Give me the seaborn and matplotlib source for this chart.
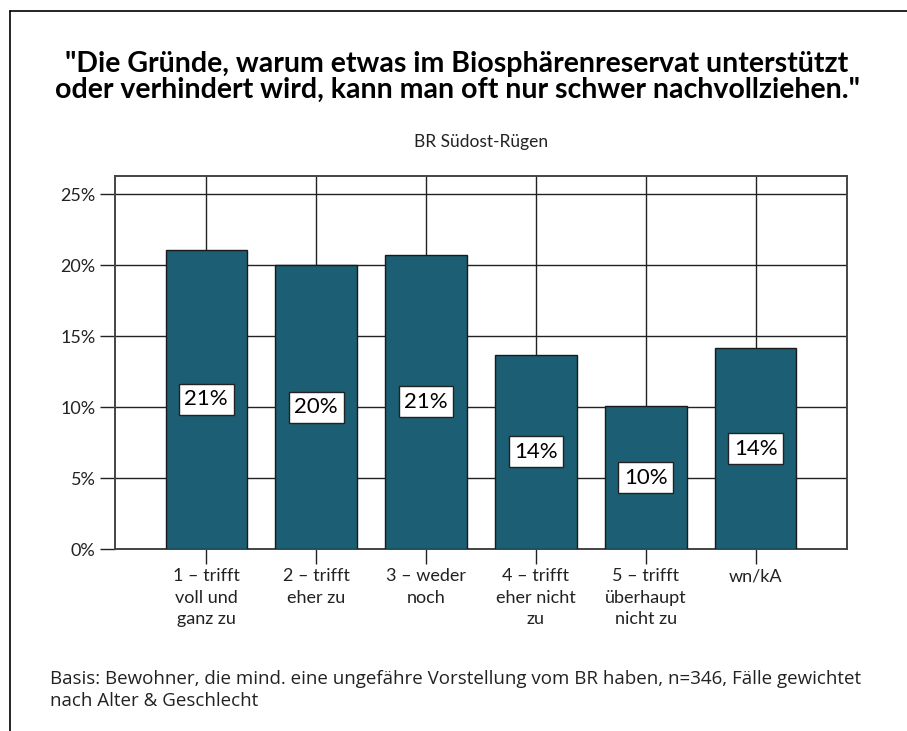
import matplotlib
matplotlib.use("Agg")
import matplotlib.pyplot as plt
import seaborn as sns
import pandas as pd
from matplotlib.lines import Line2D

categories = ["1 – trifft\nvoll und\nganz zu", "2 – trifft\neher zu", "3 – weder\nnoch",
              "4 – trifft\neher nicht\nzu", "5 – trifft\nüberhaupt\nnicht zu", "wn/kA"]
values = [21.1, 20.0, 20.75, 13.7, 10.07, 14.13]
bar_labels = ["21%", "20%", "21%", "14%", "10%", "14%"]
yticks = [0, 5, 10, 15, 20, 25]
ytick_labels = ["0%", "5%", "10%", "15%", "20%", "25%"]

title = '"Die Gründe, warum etwas im Biosphärenreservat unterstützt\noder verhindert wird, kann man oft nur schwer nachvollziehen."'
subtitle = "BR Südost-Rügen"
footnote = "Basis: Bewohner, die mind. eine ungefähre Vorstellung vom BR haben, n=346, Fälle gewichtet\nnach Alter & Geschlecht"

sns.set_theme(style="white")
plt.rcParams["font.family"] = ["Lato", "DejaVu Sans"]

df = pd.DataFrame({"cat": categories, "val": values})

fig = plt.figure(figsize=(9.07, 7.31), dpi=100)
ax = fig.add_axes([115/907, 1 - 549/731, (847 - 115)/907, (549 - 175.5)/731])

sns.barplot(data=df, x="cat", y="val", ax=ax, color="#1c5e73", saturation=1,
            width=0.74, edgecolor="#1a1a1a", linewidth=1.0, zorder=3)

ax.set_xlim(-0.83, 5.83)
ax.set_ylim(0, 26.32)
ax.set_yticks(yticks)
ax.set_yticklabels(ytick_labels, fontsize=13, color="#222222")
ax.set_xticks(range(len(categories)))
ax.set_xticklabels(categories, fontsize=13, color="#222222", linespacing=1.42)
ax.set_xlabel("")
ax.set_ylabel("")

ax.grid(True, axis="both", color="#222222", linewidth=1.0, zorder=0)
ax.set_axisbelow(True)
ax.tick_params(axis="both", which="major", direction="out", length=11, width=1.0,
               color="#222222", left=True, bottom=True, pad=3)
for s in ax.spines.values():
    s.set_visible(True)
    s.set_color("#444444")
    s.set_linewidth(1.4)

for i, (v, lab) in enumerate(zip(values, bar_labels)):
    ax.text(i, v / 2, lab, ha="center", va="center", fontsize=16, color="black", zorder=5,
            bbox=dict(boxstyle="square,pad=0.25", facecolor="white", edgecolor="#222222", linewidth=1.0))

fig.text(457/907, 1 - 77/731, title, ha="center", va="center", fontsize=20.5,
         fontweight="bold", linespacing=1.0, color="black")
fig.text(481/907, 1 - 142/731, subtitle, ha="center", va="center", fontsize=12.5, color="#222222")
fig.text(50/907, 1 - 690/731, footnote, ha="left", va="center", fontsize=13.5,
         family=["Open Sans", "DejaVu Sans"], linespacing=1.25, color="#222222")

fig.add_artist(Line2D([10/907, 1], [1 - 11/731, 1 - 11/731], transform=fig.transFigure,
                      color="black", linewidth=1.2))
fig.add_artist(Line2D([10/907, 10/907], [1 - 11/731, 0], transform=fig.transFigure,
                      color="black", linewidth=1.2))

fig.savefig("out.png", dpi=100, facecolor="white")
